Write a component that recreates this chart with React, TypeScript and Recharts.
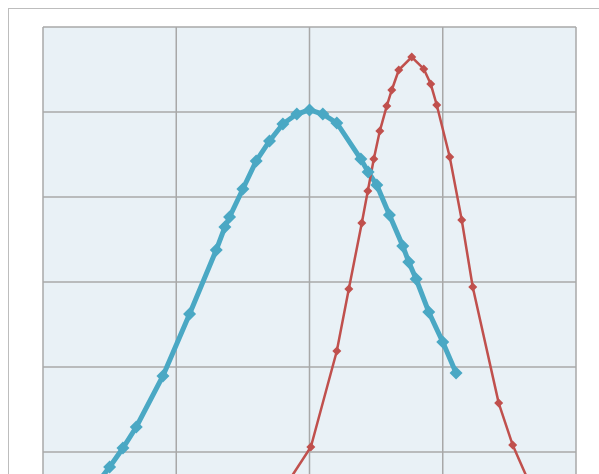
import React from "react";
import { LineChart, Line, XAxis, YAxis, CartesianGrid } from "recharts";

const xTicks = [0, 1, 2, 3, 4];
const yTicks = [0, 1, 2, 3, 4, 5, 6];

const blueX = [0.39, 0.5, 0.6, 0.7, 0.9, 1.1, 1.3, 1.365, 1.4, 1.5, 1.6, 1.7, 1.8, 1.905, 2.0, 2.1, 2.205, 2.385, 2.44, 2.505, 2.6, 2.7, 2.745, 2.8, 2.895, 3.0, 3.1];
const blueY = [0.6, 0.824, 1.047, 1.294, 1.894, 2.624, 3.376, 3.647, 3.765, 4.094, 4.424, 4.659, 4.859, 4.976, 5.024, 4.976, 4.871, 4.447, 4.294, 4.141, 3.788, 3.424, 3.235, 3.035, 2.647, 2.294, 1.929];

const redX = [1.78, 2.01, 2.205, 2.295, 2.3925, 2.4375, 2.4825, 2.5275, 2.58, 2.6175, 2.67, 2.7675, 2.8575, 2.91, 2.955, 3.0525, 3.1425, 3.225, 3.42, 3.525, 3.66];
const redY = [0.506, 1.059, 2.188, 2.918, 3.694, 4.071, 4.447, 4.776, 5.071, 5.259, 5.494, 5.647, 5.506, 5.329, 5.082, 4.471, 3.729, 2.941, 1.576, 1.082, 0.6];

const blueData = blueX.map((x, i) => ({ x, y: blueY[i] }));
const redData = redX.map((x, i) => ({ x, y: redY[i] }));

const BLUE = "#4aa8c4";
const RED = "#c0504d";

const makeDiamond = (r: number, color: string) => (props: any) => {
  const { cx, cy, index } = props;
  if (cx == null || cy == null) return <g key={index} />;
  return (
    <polygon
      key={index}
      points={`${cx},${cy - r} ${cx + r},${cy} ${cx},${cy + r} ${cx - r},${cy}`}
      fill={color}
      stroke="none"
    />
  );
};

export default function App() {
  return (
    <div
      style={{
        position: "fixed",
        left: 8,
        top: 8,
        width: 640,
        height: 620,
        borderTop: "1px solid #bdbdbd",
        borderLeft: "1px solid #bdbdbd",
        boxSizing: "border-box",
        background: "#fff",
        overflow: "hidden",
      }}
    >
      <div style={{ position: "absolute", left: 0, top: 0 }}>
        <LineChart
          width={587}
          height={568}
          margin={{ top: 18, left: 34, right: 20, bottom: 40 }}
        >
          <CartesianGrid fill="#e9f1f6" stroke="#a8a8a8" strokeWidth={1.5} />
          <XAxis
            type="number"
            dataKey="x"
            domain={[0, 4]}
            ticks={xTicks}
            hide
            allowDataOverflow
          />
          <YAxis
            type="number"
            dataKey="y"
            domain={[0, 6]}
            ticks={yTicks}
            hide
            allowDataOverflow
          />
          <Line
            data={blueData}
            dataKey="y"
            type="linear"
            stroke={BLUE}
            strokeWidth={5}
            dot={makeDiamond(6.5, BLUE)}
            activeDot={false}
            isAnimationActive={false}
          />
          <Line
            data={redData}
            dataKey="y"
            type="linear"
            stroke={RED}
            strokeWidth={2.5}
            dot={makeDiamond(4.5, RED)}
            activeDot={false}
            isAnimationActive={false}
          />
        </LineChart>
      </div>
    </div>
  );
}
